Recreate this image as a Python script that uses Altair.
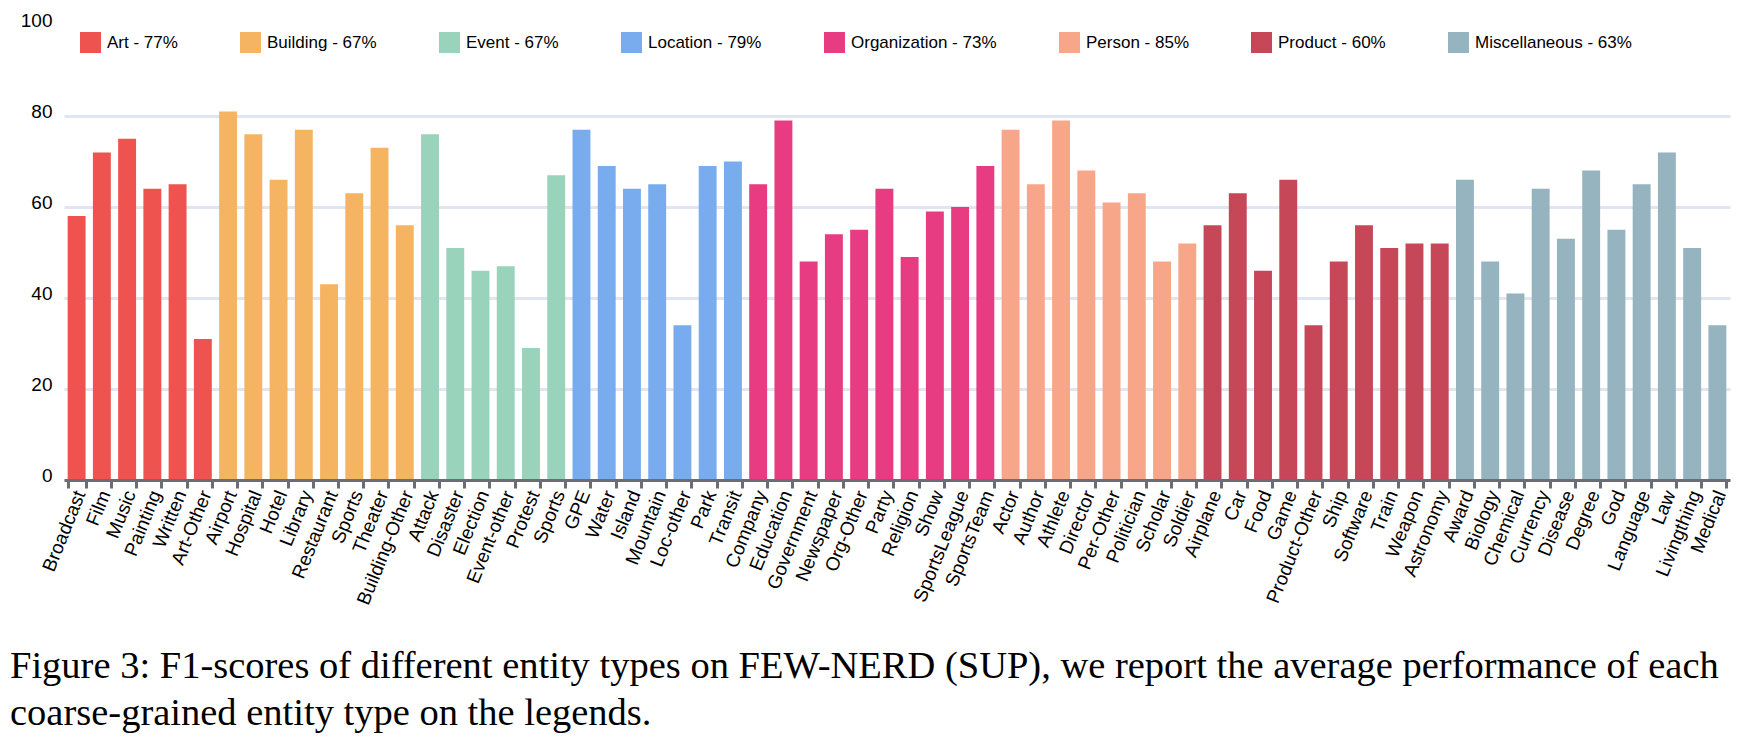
import json
import altair as alt
import pandas as pd

# ---- data ----
art_types = ["Broadcast", "Film", "Music", "Painting", "Written", "Art-Other"]
art_f1 = [58, 72, 75, 64, 65, 31]
building_types = ["Airport", "Hospital", "Hotel", "Library", "Restaurant", "Sports", "Theater", "Building-Other"]
building_f1 = [81, 76, 66, 77, 43, 63, 73, 56]
event_types = ["Attack", "Disaster", "Election", "Event-other", "Protest", "Sports"]
event_f1 = [76, 51, 46, 47, 29, 67]
location_types = ["GPE", "Water", "Island", "Mountain", "Loc-other", "Park", "Transit"]
location_f1 = [77, 69, 64, 65, 34, 69, 70]
org_types = ["Company", "Education", "Government", "Newspaper", "Org-Other", "Party", "Religion", "Show", "SportsLeague", "SportsTeam"]
org_f1 = [65, 79, 48, 54, 55, 64, 49, 59, 60, 69]
person_types = ["Actor", "Author", "Athlete", "Director", "Per-Other", "Politician", "Scholar", "Soldier"]
person_f1 = [77, 65, 79, 68, 61, 63, 48, 52]
product_types = ["Airplane", "Car", "Food", "Game", "Product-Other", "Ship", "Software", "Train", "Weapon", "Astronomy"]
product_f1 = [56, 63, 46, 66, 34, 48, 56, 51, 52, 52]
misc_types = ["Award", "Biology", "Chemical", "Currency", "Disease", "Degree", "God", "Language", "Law", "Livingthing", "Medical"]
misc_f1 = [66, 48, 41, 64, 53, 68, 55, 65, 72, 51, 34]

coarse_names = ["Art", "Building", "Event", "Location", "Organization", "Person", "Product", "Miscellaneous"]
coarse_avg = [77, 67, 67, 79, 73, 85, 60, 63]
coarse_colors = ["#EE534F", "#F5B462", "#9AD3BB", "#79ACEF", "#E83C82", "#F7A68A", "#C64858", "#96B4BF"]

y_ticks = [0, 20, 40, 60, 80, 100]

caption = [
    "Figure 3: F1-scores of different entity types on FEW-NERD (SUP), we report the average performance of each",
    "coarse-grained entity type on the legends.",
]

# ---- build table ----
groups = [
    (art_types, art_f1), (building_types, building_f1), (event_types, event_f1),
    (location_types, location_f1), (org_types, org_f1), (person_types, person_f1),
    (product_types, product_f1), (misc_types, misc_f1),
]
legend_labels = [f"{n} - {a}%" for n, a in zip(coarse_names, coarse_avg)]

rows = []
names = []
for gi, (types, vals) in enumerate(groups):
    for t, v in zip(types, vals):
        rows.append({"idx": len(names), "name": t, "f1": v, "coarse": legend_labels[gi]})
        names.append(t)
df = pd.DataFrame(rows)

label_expr = json.dumps(names) + "[datum.value]"

chart = alt.Chart(df).mark_bar().encode(
    x=alt.X(
        "idx:O",
        scale=alt.Scale(paddingInner=0.29, paddingOuter=0.145),
        axis=alt.Axis(
            title=None,
            labelExpr=label_expr,
            labelAngle=-68,
            labelFont="Liberation Sans",
            labelFontSize=19,
            labelColor="#000000",
            labelPadding=3,
            labelOffset=3,
            tickBand="extent",
            tickColor="#6b6c74",
            tickWidth=3,
            tickSize=8,
            domainColor="#6b6c74",
            domainWidth=3,
            grid=False,
            zindex=1,
        ),
    ),
    y=alt.Y(
        "f1:Q",
        scale=alt.Scale(domain=[0, 100], nice=False),
        axis=alt.Axis(
            title=None,
            values=y_ticks,
            domain=False,
            ticks=False,
            labelPadding=12,
            labelFont="Liberation Sans",
            labelFontSize=19,
            labelColor="#000000",
            labelBaseline="alphabetic",
            labelOffset=1,
            grid=True,
            gridColor="#e1e5f1",
            gridWidth=3,
            gridOpacity={"condition": {"test": "datum.value >= 100", "value": 0}, "value": 1},
        ),
    ),
    color=alt.Color(
        "coarse:N",
        scale=alt.Scale(domain=legend_labels, range=coarse_colors),
        legend=alt.Legend(
            title=None,
            orient="none",
            legendX=16,
            legendY=7,
            direction="horizontal",
            columns=8,
            columnPadding=62,
            symbolType="square",
            symbolSize=441,
            symbolStrokeWidth=0,
            symbolOpacity=1,
            labelFont="Liberation Sans",
            labelFontSize=17,
            labelColor="#000000",
            labelOffset=6,
            labelLimit=400,
            padding=0,
        ),
    ),
).properties(
    width=1666,
    height=455,
    title=alt.TitleParams(
        text=caption,
        orient="bottom",
        anchor="start",
        frame="group",
        dx=-54,
        offset=41,
        font="Liberation Serif",
        fontSize=38.5,
        fontWeight="normal",
        color="#000000",
        lineHeight=47,
    ),
    autosize=alt.AutoSizeParams(type="none"),
    padding={"left": 56, "top": 17, "right": 9, "bottom": 255},
).configure_view(stroke=None)

chart.save("out.html", embed_options={"renderer": "svg", "actions": False})
